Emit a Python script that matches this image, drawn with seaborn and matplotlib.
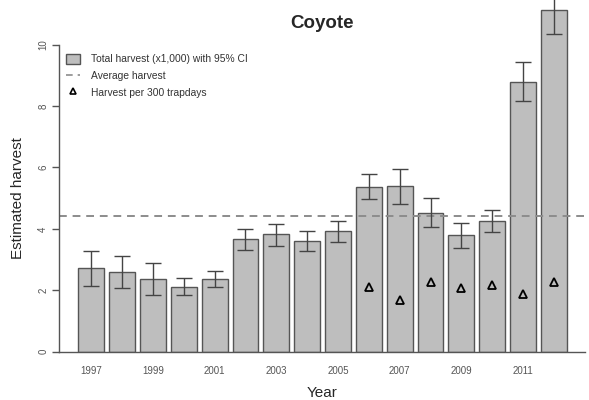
import matplotlib
matplotlib.use('Agg')
import matplotlib.pyplot as plt
from matplotlib.patches import Patch
from matplotlib.lines import Line2D
import numpy as np
import pandas as pd
import seaborn as sns

# coyote harvest estimates (x1,000) with 95% CI
years = list(range(1997, 2013))
harvest = [2.73, 2.59, 2.37, 2.12, 2.37, 3.68, 3.82, 3.61, 3.92, 5.36, 5.40, 4.53, 3.80, 4.25, 8.78, 11.12]
ci_low = [2.13, 2.06, 1.85, 1.83, 2.12, 3.31, 3.44, 3.29, 3.58, 4.98, 4.82, 4.05, 3.39, 3.89, 8.16, 10.33]
ci_high = [3.29, 3.12, 2.88, 2.39, 2.62, 4.01, 4.17, 3.92, 4.25, 5.77, 5.96, 5.00, 4.19, 4.62, 9.42, 11.95]
avg_harvest = 4.42

# harvest per 300 trapdays (only from 2006 on)
trap_years = [2006, 2007, 2008, 2009, 2010, 2011, 2012]
trap_rate = [2.10, 1.69, 2.26, 2.09, 2.18, 1.88, 2.26]

sns.set_style('ticks')
plt.rcParams['font.family'] = ['Liberation Sans', 'DejaVu Sans']

df = pd.DataFrame({'year': [str(y) for y in years], 'harvest': harvest})

fig = plt.figure(figsize=(5.89, 4.0), dpi=100)
ax = fig.add_axes([59.3 / 589, 48.3 / 400, (585 - 59.3) / 589, 351.7 / 400])

sns.barplot(data=df, x='year', y='harvest', color='#bebebe', saturation=1,
            width=0.84, edgecolor='#555555', linewidth=1.0, errorbar=None, ax=ax)

xpos = np.arange(len(years))
h = np.array(harvest)
yerr = [h - np.array(ci_low), np.array(ci_high) - h]
ax.errorbar(xpos, h, yerr=yerr, fmt='none', ecolor='#444444', elinewidth=1.0,
            capsize=6, capthick=1.0, zorder=3)

ax.axhline(avg_harvest, color='#8c8c8c', lw=1.4, ls=(0, (4, 3)), zorder=1)

tpos = [years.index(y) for y in trap_years]
ax.plot(tpos, trap_rate, ls='none', marker='^', markersize=5.5, mfc='none',
        mec='black', mew=1.3, zorder=4)

ax.set_xlim(-1.038, 16.01)
ax.set_ylim(0, 11.45)

ax.set_xticks(xpos[::2])
ax.set_xticklabels([str(y) for y in years[::2]])
ax.tick_params(axis='x', length=0, pad=10, labelsize=7, labelcolor='#555555')
ax.set_yticks([0, 2, 4, 6, 8, 10])
ax.tick_params(axis='y', length=5, width=1, color='#555555', pad=3,
               labelsize=7, labelcolor='#555555', labelrotation=90)
for lab in ax.get_yticklabels():
    lab.set_va('center')

sns.despine(ax=ax, top=True, right=True)
ax.spines['left'].set_bounds(0, 10)
ax.spines['left'].set_color('#555555')
ax.spines['bottom'].set_color('#555555')
ax.spines['left'].set_linewidth(1)
ax.spines['bottom'].set_linewidth(1)

ax.set_xlabel('Year', fontsize=11)
ax.set_ylabel('Estimated harvest', fontsize=11)
ax.xaxis.set_label_coords(0.5, -0.097)
ax.yaxis.set_label_coords(-0.066, 0.437)
ax.set_title('Coyote', fontsize=13.5, fontweight='bold', y=0.92, pad=0)

handles = [
    Patch(facecolor='#bebebe', edgecolor='#555555', linewidth=1.0),
    Line2D([], [], color='#8c8c8c', lw=1.2, ls=(0, (4, 3))),
    Line2D([], [], ls='none', marker='^', markersize=5, mfc='none', mec='black', mew=1.2),
]
labels = ['Total harvest (x1,000) with 95% CI', 'Average harvest', 'Harvest per 300 trapdays']
leg = ax.legend(handles, labels, loc='upper left', bbox_to_anchor=(0.005, 0.858),
                frameon=False, fontsize=7.4, handlelength=1.4, handleheight=1.1,
                handletextpad=1.0, labelspacing=0.6, borderaxespad=0.0)
for t in leg.get_texts():
    t.set_color('#333333')

fig.savefig('out.png', dpi=100)
